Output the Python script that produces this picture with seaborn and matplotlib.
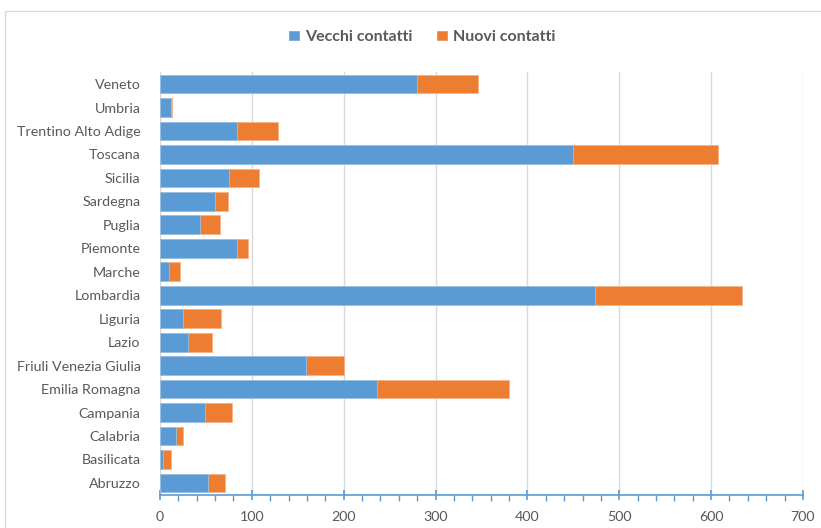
import matplotlib
matplotlib.use('Agg')
import matplotlib.pyplot as plt
import seaborn as sns
import pandas as pd
from matplotlib.patches import Patch, Rectangle
from matplotlib.ticker import MultipleLocator

# dati
regioni = ['Veneto', 'Umbria', 'Trentino Alto Adige', 'Toscana', 'Sicilia', 'Sardegna',
           'Puglia', 'Piemonte', 'Marche', 'Lombardia', 'Liguria', 'Lazio',
           'Friuli Venezia Giulia', 'Emilia Romagna', 'Campania', 'Calabria',
           'Basilicata', 'Abruzzo']
vecchi = [280, 12, 84, 450, 75, 60, 43, 84, 10, 474, 25, 30, 159, 236, 49, 17, 3, 52]
nuovi = [66, 1, 45, 157, 33, 14, 22, 12, 12, 160, 41, 27, 41, 144, 29, 8, 9, 19]

df = pd.DataFrame({'Regione': regioni, 'Vecchi contatti': vecchi, 'Nuovi contatti': nuovi})
df['Totale'] = df['Vecchi contatti'] + df['Nuovi contatti']

blu = '#5B9BD5'
arancio = '#ED7D31'
grigio = '#595959'

sns.set_style('white')
plt.rcParams['font.family'] = ['Lato', 'DejaVu Sans']

fig = plt.figure(figsize=(8.21, 5.28), dpi=100)
ax = fig.add_axes([0.1949, 0.0631, 0.978 - 0.1949, 0.863 - 0.0631])

# barre impilate: prima il totale (arancio), poi i vecchi contatti (blu) sopra
sns.barplot(data=df, x='Totale', y='Regione', color=arancio, saturation=1,
            width=0.8, edgecolor='#f5b48a', linewidth=0.6, ax=ax)
sns.barplot(data=df, x='Vecchi contatti', y='Regione', color=blu, saturation=1,
            width=0.8, edgecolor='#9cc3e6', linewidth=0.6, ax=ax)

ax.set_xlim(0, 700)
ax.xaxis.set_major_locator(MultipleLocator(100))
ax.xaxis.set_minor_locator(MultipleLocator(20))
ax.set_xlabel('')
ax.set_ylabel('')
ax.grid(axis='x', which='major', color='#d9d9d9', linewidth=1)
ax.set_axisbelow(True)

for s in ['top', 'right', 'left']:
    ax.spines[s].set_visible(False)
ax.spines['bottom'].set_color(blu)
ax.spines['bottom'].set_linewidth(1.2)

ax.tick_params(axis='x', which='both', bottom=True)
ax.tick_params(axis='x', which='major', direction='inout', length=7, width=1.2,
               color=blu, labelcolor=grigio, labelsize=10.3, pad=8)
ax.tick_params(axis='x', which='minor', direction='out', length=4, width=1, color=blu)
ax.tick_params(axis='y', length=0, labelcolor=grigio, labelsize=10.3, pad=14)

# legenda in alto
handles = [Patch(facecolor=blu, label='Vecchi contatti'),
           Patch(facecolor=arancio, label='Nuovi contatti')]
leg = fig.legend(handles=handles, loc='center', bbox_to_anchor=(0.514, 0.930), ncol=2,
                 frameon=False, handlelength=0.75, handleheight=0.75, handletextpad=0.3,
                 columnspacing=1.5, prop={'size': 11.5, 'weight': 'bold'})
for t in leg.get_texts():
    t.set_color(grigio)

# bordo del grafico
fig.patches.append(Rectangle((5 / 821, -0.1), 1.2, 1 - 11 / 528 + 0.1, transform=fig.transFigure,
                             facecolor='none', edgecolor='#d9d9d9', linewidth=1))

fig.savefig('out.png', dpi=100)
